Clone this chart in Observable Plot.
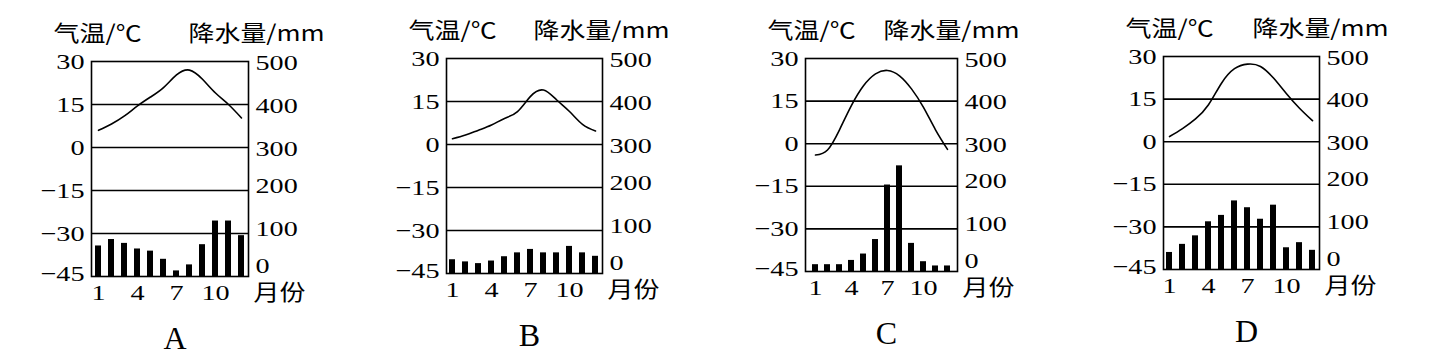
<!DOCTYPE html>
<html>
<head>
<meta charset="utf-8">
<script src="https://cdn.jsdelivr.net/npm/d3@7"></script>
<script src="https://cdn.jsdelivr.net/npm/@observablehq/plot@0.6"></script>
<style>
  html, body { margin: 0; padding: 0; background: #fff; }
  #root { position: relative; width: 1434px; height: 355px; overflow: hidden; }
  .panel { position: absolute; top: 0; }
</style>
</head>
<body>
<div id="root"></div>
<script>
// ---- data ----
const months = [1, 2, 3, 4, 5, 6, 7, 8, 9, 10, 11, 12];
const panelNames = ["A", "B", "C", "D"];
const tempA = [6.0, 8.2, 11.0, 14.5, 17.6, 20.9, 25.3, 27.0, 23.8, 19.0, 15.0, 10.3];
const precipA = [71, 86, 77, 64, 59, 40, 13, 27, 74, 129, 129, 95];
const tempB = [2.0, 3.3, 5.0, 6.8, 9.1, 11.5, 16.8, 19.0, 15.6, 11.5, 7.0, 4.7];
const precipB = [32, 27, 23, 29, 39, 48, 56, 48, 48, 63, 48, 40];
const tempC = [-4.0, -2.2, 4.9, 13.5, 20.4, 24.6, 25.8, 23.9, 19.3, 12.8, 4.9, -2.0];
const precipC = [16, 16, 16, 26, 41, 75, 203, 248, 66, 23, 13, 13];
const tempD = [1.8, 4.6, 8.0, 13.0, 20.6, 25.7, 27.3, 26.5, 22.4, 16.9, 11.8, 7.4];
const precipD = [40, 59, 79, 112, 127, 161, 145, 118, 151, 51, 63, 45];
const tempTicks = [30, 15, 0, -15, -30, -45];
const precipTicks = [500, 400, 300, 200, 100, 0];
const monthTicks = [1, 4, 7, 10];
const gridTemps = [15, 0, -15, -30];
const tempLabel = "气温/℃";
const precipLabel = "降水量/mm";
const monthLabel = "月份";

// ---- layout (frame boxes in page pixels) ----
const layout = [
  {left: 91, right: 248, top: 61, bottom: 276, pdx: -60},
  {left: 446, right: 602, top: 58, bottom: 273, pdx: -69},
  {left: 805, right: 957, top: 58, bottom: 271, pdx: -74},
  {left: 1163, right: 1319, top: 56, bottom: 269, pdx: -67}
];
const temps = [tempA, tempB, tempC, tempD];
const precips = [precipA, precipB, precipC, precipD];

const H = 355, W = 390, ML = 70;
const tMin = -45, tMax = 30, pMax = 500;
const p2t = p => tMin + p * (tMax - tMin) / pMax;
const fmtNeg = d => d < 0 ? "\u2212" + Math.abs(d) : String(d);
const fmtP = d => String(precipTicks[tempTicks.indexOf(d)]);
const cjk = "Noto Sans CJK SC";
const serif = "Liberation Serif";
const FS = 22, CFS = 22;

const root = document.getElementById("root");

panelNames.forEach((name, k) => {
  const L = layout[k];
  const rows = months.map((m, i) => ({month: m, temp: temps[k][i], precip: precips[k][i]}));
  const axisBase = {tickSize: 0, label: null, fontSize: FS, fontFamily: serif, fill: "black"};
  const plot = Plot.plot({
    width: W,
    height: H,
    marginLeft: ML,
    marginRight: W - ML - (L.right - L.left),
    marginTop: L.top,
    marginBottom: H - L.bottom,
    style: {background: "transparent", overflow: "visible", fontFamily: serif, fontSize: FS + "px", color: "black"},
    x: {type: "band", domain: months, paddingInner: 0.52, paddingOuter: 0.26, axis: null},
    y: {domain: [tMin, tMax], axis: null},
    marks: [
      Plot.ruleY(gridTemps, {stroke: "black", strokeWidth: 1.6}),
      Plot.barY(rows, {x: "month", y1: tMin, y2: d => p2t(d.precip), fill: "black"}),
      Plot.line(rows, {x: "month", y: "temp", curve: "natural", stroke: "black", strokeWidth: 1.6}),
      Plot.frame({stroke: "black", strokeWidth: 1.6}),
      Plot.axisY(tempTicks.slice(0, 5), {...axisBase, anchor: "left", tickPadding: 7, tickFormat: fmtNeg}),
      Plot.axisY(tempTicks.slice(5), {...axisBase, anchor: "left", tickPadding: 7, tickFormat: fmtNeg, dy: -3}),
      Plot.axisY(tempTicks.slice(0, 3), {...axisBase, anchor: "right", tickPadding: 7, tickFormat: fmtP, dy: 1}),
      Plot.axisY(tempTicks.slice(3, 5), {...axisBase, anchor: "right", tickPadding: 7, tickFormat: fmtP, dy: -5}),
      Plot.axisY(tempTicks.slice(5), {...axisBase, anchor: "right", tickPadding: 7, tickFormat: fmtP, dy: -11}),
      Plot.axisX(monthTicks, {...axisBase, anchor: "bottom", tickPadding: 8}),
      Plot.text([tempLabel], {text: d => d, frameAnchor: "top-left", lineAnchor: "middle", textAnchor: "start",
        dx: -38, dy: -28, fontFamily: cjk, fontSize: CFS, fill: "black"}),
      Plot.text([precipLabel], {text: d => d, frameAnchor: "top-right", lineAnchor: "middle", textAnchor: "start",
        dx: L.pdx, dy: -28, fontFamily: cjk, fontSize: CFS, fill: "black"}),
      Plot.text([monthLabel], {text: d => d, frameAnchor: "bottom-right", lineAnchor: "middle", textAnchor: "start",
        dx: 5, dy: 16, fontFamily: cjk, fontSize: CFS, fill: "black"}),
      Plot.text([name], {text: d => d, frameAnchor: "bottom", lineAnchor: "middle", dx: 5, dy: 62,
        fontFamily: serif, fontSize: 32, fill: "black"})
    ]
  });
  const div = document.createElement("div");
  div.className = "panel";
  div.style.left = (L.left - ML) + "px";
  div.style.width = W + "px";
  div.appendChild(plot);
  root.appendChild(div);
});

// widen glyphs horizontally (the reference type is stretched)
root.querySelectorAll("svg text").forEach(t => {
  const s = t.textContent || "";
  if (!s.length || panelNames.includes(s)) return;
  const k = /[\u4e00-\u9fff]/.test(s) ? 1.18 : 1.28;
  const w = t.getComputedTextLength();
  if (w > 0) {
    t.setAttribute("textLength", (w * k).toFixed(1));
    t.setAttribute("lengthAdjust", "spacingAndGlyphs");
  }
});
</script>
</body>
</html>
